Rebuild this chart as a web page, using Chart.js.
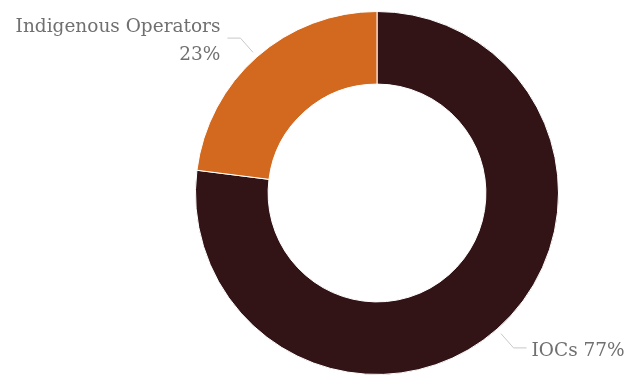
<!DOCTYPE html>
<html>
<head>
<meta charset="utf-8">
<script src="https://cdn.jsdelivr.net/npm/chart.js@4/dist/chart.umd.min.js"></script>
<style>
  html, body { margin: 0; padding: 0; background: #fff; }
  #wrap { width: 638px; height: 376px; }
</style>
</head>
<body>
<div id="wrap"><canvas id="myDonut"></canvas></div>
<script>
// chart data
const labels = ["IOCs", "Indigenous Operators"];
const shares = [77, 23];
const colors = ["#331416", "#D2691E"];

const labelFont = "18.5px 'DejaVu Serif', serif";
const labelColor = "#707070";
const leaderColor = "#c8c8c8";

// draws the outside labels with a leader line for each slice
const outsideLabels = {
    id: "outsideLabels",
    afterDatasetsDraw(chart) {
        const ctx = chart.ctx;
        const meta = chart.getDatasetMeta(0);
        const total = shares.reduce((a, b) => a + b, 0);

        ctx.save();
        ctx.font = labelFont;
        ctx.textBaseline = "alphabetic";

        meta.data.forEach((arc, i) => {
            const p = arc.getProps(["x", "y", "startAngle", "endAngle", "outerRadius"], true);
            const mid = (p.startAngle + p.endAngle) / 2;
            const cos = Math.cos(mid), sin = Math.sin(mid);
            const x0 = p.x + cos * (p.outerRadius + 6);
            const y0 = p.y + sin * (p.outerRadius + 6);
            const x1 = p.x + cos * (p.outerRadius + 25);
            const y1 = p.y + sin * (p.outerRadius + 25);
            const right = cos >= 0;
            const x2 = x1 + (right ? 13 : -13);

            ctx.strokeStyle = leaderColor;
            ctx.lineWidth = 1;
            ctx.beginPath();
            ctx.moveTo(x0, y0);
            ctx.lineTo(x1, y1);
            ctx.lineTo(x2, y1);
            ctx.stroke();

            const pct = Math.round(shares[i] / total * 100) + "%";
            ctx.fillStyle = labelColor;
            if (right) {
                ctx.textAlign = "left";
                ctx.fillText(labels[i] + " " + pct, x2 + 5, y1 + 8);
            } else {
                ctx.textAlign = "right";
                ctx.fillText(labels[i], x2 - 7, y1 - 6);
                ctx.fillText(pct, x2 - 7, y1 + 22);
            }
        });
        ctx.restore();
    }
};

const ctx = document.getElementById("myDonut").getContext("2d");
new Chart(ctx, {
    type: "doughnut",
    data: {
        labels: labels,
        datasets: [{
            data: shares,
            backgroundColor: colors,
            borderColor: "#ffffff",
            borderWidth: 1,
            hoverOffset: 0
        }]
    },
    options: {
        responsive: true,
        maintainAspectRatio: false,
        animation: false,
        cutout: "60%",
        layout: {
            padding: { left: 116, right: 0, top: 11, bottom: 1 }
        },
        plugins: {
            legend: { display: false },
            tooltip: { enabled: false }
        }
    },
    plugins: [outsideLabels]
});
</script>
</body>
</html>
